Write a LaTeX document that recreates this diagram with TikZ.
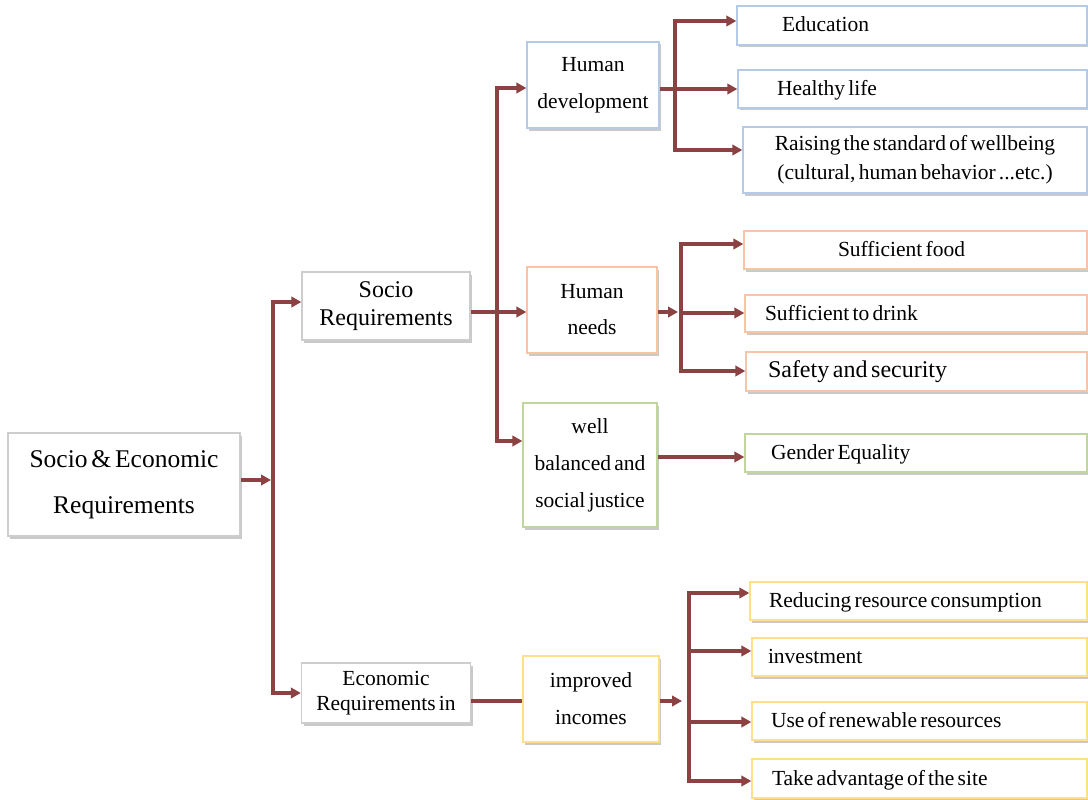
\documentclass[tikz,border=0pt]{standalone}
\usepackage{fontspec}
\setmainfont[WordSpace=0.6]{Liberation Serif}
\usetikzlibrary{shadows,arrows.meta}

\definecolor{conn}{RGB}{140,66,66}
\definecolor{bgray}{RGB}{205,205,205}
\definecolor{bblue}{RGB}{180,202,230}
\definecolor{borange}{RGB}{248,196,164}
\definecolor{bgreen}{RGB}{192,214,156}
\definecolor{byellow}{RGB}{255,224,136}

\begin{document}
\begin{tikzpicture}[x=1pt,y=-1pt,
  box/.style={draw=#1, line width=1.4pt, fill=white, inner sep=0pt,
    drop shadow={shadow xshift=2pt, shadow yshift=-2.5pt, opacity=.3, fill=black!70}},
  hub/.style={box=#1, align=center},
  leaf/.style={box=#1, minimum height=38pt, align=flush left,
    text height=14pt, text depth=1pt, font=\fontsize{21.5}{24}\selectfont},
  link/.style={draw=conn, line width=3.2pt},
  tip/.style={link, -{Triangle[length=10pt,width=10.5pt]}},
]
\useasboundingbox (0,0) rectangle (1088,800);

% ---- root and first level
\node[hub=bgray, minimum width=232pt, minimum height=103pt,
      font=\fontsize{25.5}{46}\selectfont] (A) at (124,484.5)
      {Socio \& Economic\\Requirements};
\node[hub=bgray, minimum width=168pt, minimum height=68pt,
      font=\fontsize{24}{28}\selectfont] (B) at (386,306)
      {Socio\\Requirements};
\node[hub=bgray, minimum width=169pt, minimum height=60pt,
      font=\fontsize{21.5}{25}\selectfont] (C) at (386,693)
      {Economic\\Requirements in};

% ---- second level
\node[hub=bblue, minimum width=132pt, minimum height=86pt,
      font=\fontsize{21.5}{37}\selectfont] (D) at (593,85)
      {Human\\development};
\node[hub=borange, minimum width=130pt, minimum height=86pt,
      font=\fontsize{21.5}{36}\selectfont] (E) at (592,310)
      {Human\\needs};
\node[hub=bgreen, minimum width=134pt, minimum height=124pt,
      font=\fontsize{21.5}{37}\selectfont] (F) at (590,465)
      {well\\balanced and\\social justice};
\node[hub=byellow, minimum width=136pt, minimum height=86pt,
      font=\fontsize{21.5}{37}\selectfont] (G) at (591,699)
      {improved\\incomes};

% ---- leaves: human development
\node[leaf=bblue, minimum width=350pt, minimum height=39pt, text width=260pt] (L1) at (912,25.5) {Education};
\node[leaf=bblue, minimum width=349pt, text width=271pt] (L2) at (912.5,89) {Healthy life};
\node[box=bblue, minimum width=344pt, minimum height=66pt, align=center,
      font=\fontsize{21.5}{29}\selectfont] (L3) at (915,160)
      {Raising the standard of wellbeing\\(cultural, human behavior ...etc.)};

% ---- leaves: human needs
\node[leaf=borange, minimum width=343pt, text width=155pt] (N1) at (915.5,250) {Sufficient food};
\node[leaf=borange, minimum width=342pt, minimum height=37pt, text width=302pt] (N2) at (916,313.5) {Sufficient to drink};
\node[leaf=borange, minimum width=341pt, minimum height=39pt, text width=297pt,
      text depth=3pt, font=\fontsize{24}{26}\selectfont] (N3) at (916.5,371.5) {Safety and security};

% ---- leaf: well balanced
\node[leaf=bgreen, minimum width=342pt, text width=290pt] (Q) at (916,453) {Gender Equality};

% ---- leaves: improved incomes
\node[leaf=byellow, minimum width=337pt, text width=299pt] (R1) at (918.5,601) {Reducing resource consumption};
\node[leaf=byellow, minimum width=335pt, text width=303pt] (R2) at (919.5,657) {investment};
\node[leaf=byellow, minimum width=335pt, text width=297pt] (R3) at (919.5,721) {Use of renewable resources};
\node[leaf=byellow, minimum width=335pt, minimum height=39pt, text width=295pt] (R4) at (919.5,778.5) {Take advantage of the site};

% ---- junction points of the connectors
\coordinate (j1) at (271,480);
\coordinate (t1a) at (273,302);
\coordinate (t1b) at (273,693);
\coordinate (s) at (497,312);
\coordinate (t2a) at (497,88);
\coordinate (t2b) at (497,441);
\coordinate (h) at (675,89);
\coordinate (t3a) at (675,21);
\coordinate (t3b) at (675,150);
\coordinate (j4) at (678,312);
\coordinate (t4a) at (681,244);
\coordinate (t4b) at (681,371);
\coordinate (n2) at (681,313);
\coordinate (g) at (0,457);
\coordinate (c) at (0,701);
\coordinate (j5) at (682,701);
\coordinate (t5a) at (689,593);
\coordinate (t5b) at (689,781);
\coordinate (e2) at (689,651);
\coordinate (e3) at (689,722);

% ---- root to first level
\draw[tip] (A.east |- j1) -- (j1);
\draw[tip] (t1b) -- (t1a) -- (B.west |- t1a);
\draw[tip] (t1a) -- (t1b) -- (C.west |- t1b);

% ---- socio requirements to second level
\draw[tip] (B.east |- s) -- (E.west |- s);
\draw[tip] (t2b) -- (t2a) -- (D.west |- t2a);
\draw[tip] (t2a) -- (t2b) -- (F.west |- t2b);

% ---- human development
\draw[tip] (D.east |- h) -- (L2.west |- h);
\draw[tip] (t3b) -- (t3a) -- (L1.west |- t3a);
\draw[tip] (t3a) -- (t3b) -- (L3.west |- t3b);

% ---- human needs
\draw[tip] (E.east |- j4) -- (j4);
\draw[tip] (t4b) -- (t4a) -- (N1.west |- t4a);
\draw[tip] (t4a) -- (t4b) -- (N3.west |- t4b);
\draw[tip] (n2) -- (N2.west |- n2);

% ---- well balanced
\draw[tip] (F.east |- g) -- (Q.west |- g);

% ---- economic requirements
\draw[link] (C.east |- c) -- (G.west |- c);
\draw[tip] (G.east |- j5) -- (j5);
\draw[tip] (t5b) -- (t5a) -- (R1.west |- t5a);
\draw[tip] (t5a) -- (t5b) -- (R4.west |- t5b);
\draw[tip] (e2) -- (R2.west |- e2);
\draw[tip] (e3) -- (R3.west |- e3);
\end{tikzpicture}
\end{document}
